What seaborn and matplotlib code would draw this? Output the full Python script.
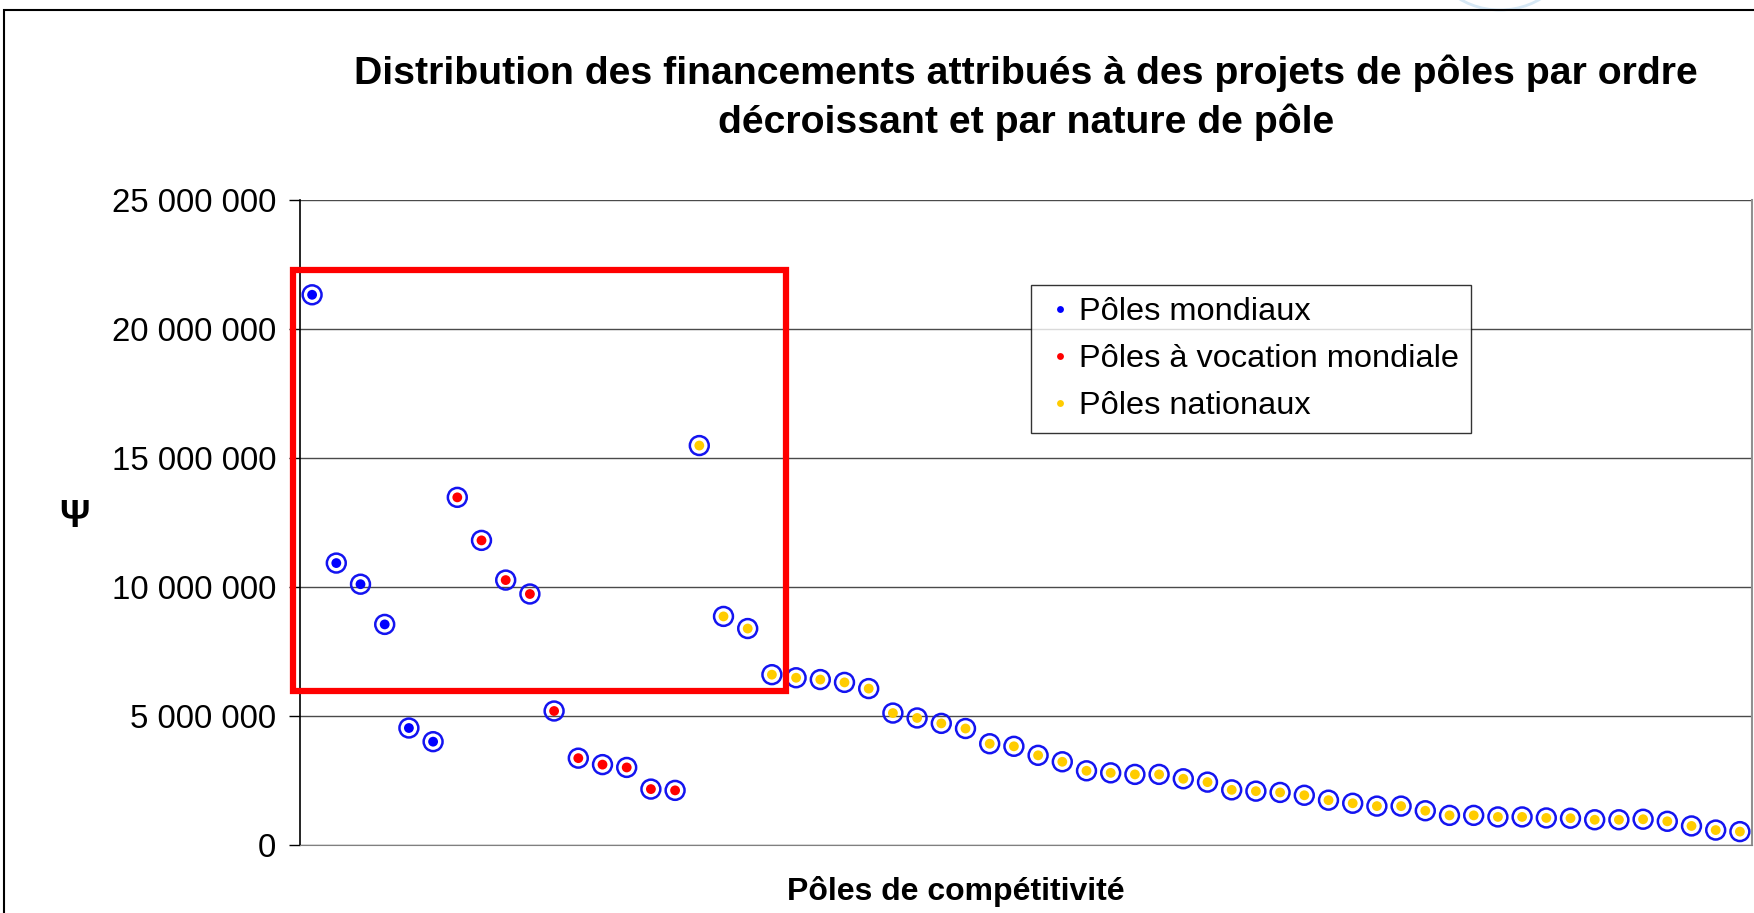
import numpy as np
import pandas as pd
import matplotlib
matplotlib.use("Agg")
import matplotlib.pyplot as plt
import seaborn as sns
from matplotlib.patches import Rectangle, Ellipse
from matplotlib.ticker import FuncFormatter

# funding per pole, in millions of euros, sorted by category then decreasing
mondiaux = [21.33, 10.92, 10.10, 8.54, 4.52, 3.99]
vocation_mondiale = [13.47, 11.80, 10.26, 9.72, 5.18, 3.35, 3.10, 2.99, 2.15, 2.10]
nationaux = [15.48, 8.85, 8.38, 6.59, 6.47, 6.40, 6.29, 6.05, 5.10, 4.91,
             4.70, 4.50, 3.91, 3.81, 3.46, 3.21, 2.86, 2.78, 2.72, 2.72,
             2.55, 2.42, 2.12, 2.07, 2.02, 1.91, 1.72, 1.60, 1.49, 1.49,
             1.31, 1.13, 1.13, 1.07, 1.07, 1.03, 1.02, 0.96, 0.96, 0.98,
             0.90, 0.72, 0.56, 0.50]

labels = ["Pôles mondiaux", "Pôles à vocation mondiale", "Pôles nationaux"]
colors = ["#0000FF", "#FF0000", "#FFCC00"]
y_ticks = [0, 5e6, 10e6, 15e6, 20e6, 25e6]

# highlighted block (first 20 poles, between ~6 and ~22 M)
box_x = (-0.79, 19.6)
box_y = (5.94e6, 22.31e6)

values = mondiaux + vocation_mondiale + nationaux
nature = ([labels[0]] * len(mondiaux) + [labels[1]] * len(vocation_mondiale)
          + [labels[2]] * len(nationaux))
df = pd.DataFrame({
    "rang": np.arange(len(values)),
    "montant": np.array(values) * 1e6,
    "nature": nature,
})

sns.set_style("white")
plt.rcParams["font.family"] = ["Liberation Sans", "DejaVu Sans"]
plt.rcParams["text.color"] = "black"
plt.rcParams["axes.labelcolor"] = "black"

fig = plt.figure(figsize=(17.54, 9.13), dpi=100)
ax = fig.add_axes([300 / 1754, 1 - 844.5 / 913, 1452 / 1754, 644.3 / 913])

# blue rings around every point
sns.scatterplot(data=df, x="rang", y="montant", ax=ax, s=185,
                facecolor="none", edgecolor="#1414F0", linewidth=1.8,
                legend=False, zorder=3)
# coloured inner dots
sns.scatterplot(data=df, x="rang", y="montant", hue="nature",
                hue_order=labels, palette=colors, ax=ax, s=50,
                linewidth=0, zorder=4)

ax.set_xlim(-0.5, len(values) - 0.5)
ax.set_ylim(0, 25e6)
ax.set_yticks(y_ticks)
ax.yaxis.set_major_formatter(FuncFormatter(lambda v, p: f"{int(v):,}".replace(",", " ")))
ax.set_xticks([])
ax.tick_params(axis="y", labelsize=23.8, length=8, width=1, direction="out",
               left=True, pad=9, colors="black")
ax.grid(axis="y", color="#4a4a4a", linewidth=1)
ax.set_axisbelow(True)

ax.spines["top"].set_visible(False)
ax.spines["left"].set_color("black")
ax.spines["left"].set_linewidth(1.2)
ax.spines["bottom"].set_color("#808080")
ax.spines["right"].set_color("#909090")
ax.spines["right"].set_linewidth(1.5)

ax.set_xlabel("Pôles de compétitivité", fontsize=23, fontweight="bold")
ax.xaxis.set_label_coords((956 - 300) / 1452, -0.049)
ax.set_ylabel("Ψ", fontsize=27, fontweight="bold", rotation=0, va="center")
ax.yaxis.set_label_coords((74 - 300) / 1452, (844.5 - 517) / 644.3)

# red highlight box
ax.add_patch(Rectangle((box_x[0], box_y[0]), box_x[1] - box_x[0], box_y[1] - box_y[0],
                       fill=False, edgecolor="#FF0000", linewidth=4.5,
                       clip_on=False, zorder=5))

leg = ax.legend(loc="upper left", bbox_to_anchor=(1031 / 1754, 1 - 285 / 913),
                bbox_transform=fig.transFigure, borderaxespad=0, fontsize=23.4,
                frameon=True, fancybox=False, edgecolor="black",
                markerscale=0.7, handletextpad=0.1, labelspacing=0.52,
                borderpad=0.38, handlelength=1.0)
leg.get_frame().set_linewidth(1)

fig.text(1026 / 1754, 1 - 98 / 913,
         "Distribution des financements attribués à des projets de pôles par ordre\n"
         "décroissant et par nature de pôle",
         ha="center", va="center", fontsize=28.3, fontweight="bold", linespacing=1.4)

# outer chart border and faint logo edge
fig.add_artist(Rectangle((4 / 1754, -0.1), 1.2, 1 - 10.5 / 913 + 0.1,
                         transform=fig.transFigure, fill=False,
                         edgecolor="black", linewidth=1.5))
fig.add_artist(Ellipse((1500 / 1754, 1 + 60 / 913), 150 / 1754, 140 / 913,
                       transform=fig.transFigure, fill=False,
                       edgecolor="#D6E8F5", linewidth=2, zorder=-1))

fig.savefig("out.png", dpi=100)
